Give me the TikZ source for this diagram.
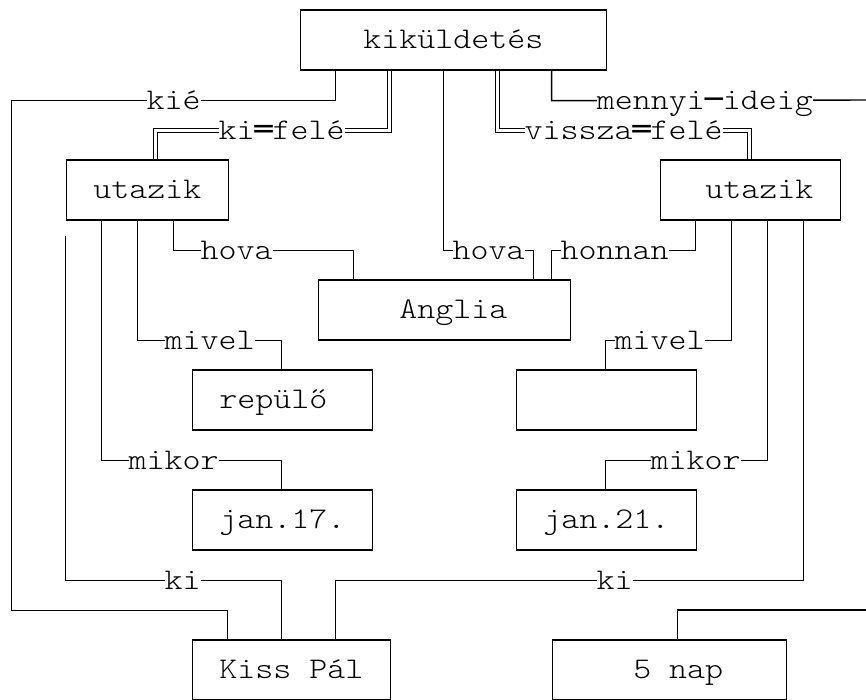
\documentclass[tikz,border=0pt]{standalone}
\usepackage{fontspec}
\newfontfamily\mono[FakeStretch=1.143]{lmmonolt10-regular.otf}
\newfontfamily\boxfont{DejaVu Sans Mono}

\begin{document}
\begin{tikzpicture}[x=0.36cm,y=-0.6cm,line width=0.8pt,
  every node/.style={font=\mono\fontsize{17.07}{20}\selectfont,inner sep=0pt,text height=12.8pt,text depth=2.6pt},
  box/.style={draw,minimum width=#1*0.36cm,minimum height=1.2cm},
  lab/.style={fill=white},
  dbl/.style={double,line width=0.6pt,double distance=1.6pt}]
  \def\cw{0.36cm}
  \def\rh{0.6cm}
  \path[use as bounding box,fill=white] (-0.683,-0.333) rectangle (47.43,23);
  \node[box=17] (mission) at (24.5,1) {kiküldetés};
  \node[box=9] (tripL) at (7.5,6) {utazik};
  \node[box=10] (tripR) at (41,6) {\hspace*{\cw}utazik};
  \node[box=14] (england) at (24,10) {\hspace*{\cw}Anglia};
  \node[box=10] (plane) at (15,13) {repülő\hspace*{\cw}};
  \node[box=10] (meansR) at (33,13) {};
  \node[box=10] (dateL) at (15,17) {jan.17.};
  \node[box=10] (dateR) at (33,17) {jan.21.};
  \node[box=11] (person) at (15.5,22) {Kiss Pál};
  \node[box=13] (period) at (36.5,22) {\hspace*{\cw}5 nap};
  \coordinate (edgeTop) at (48,3);
  \coordinate (edgeLow) at (48,20);
  \draw ([xshift=2*\cw]mission.south west) -- ++(0,1) -- node[lab]{kié} ++(-18,0) -- ++(0,17) -| ([xshift=2*\cw]person.north west);
  \draw[dbl] ([xshift=5*\cw]mission.south west) -- ++(0,2) -- node[lab,pos=0.4615]{ki{\boxfont ═}felé} ++(-13,0) -- ([xshift=5*\cw]tripL.north west);
  \draw ([xshift=8*\cw]mission.south west) -- ++(0,6) -- node[lab]{hova} ++(5,0) -- ([xshift=12*\cw]england.north west);
  \draw[dbl] ([xshift=11*\cw]mission.south west) -- ++(0,2) -- node[lab]{vissza{\boxfont ═}felé} ++(14,0) -- ([xshift=5*\cw]tripR.north west);
  \draw ([xshift=14*\cw]mission.south west) -- ++(0,1) -- node[lab,pos=0.4722]{mennyi{\boxfont ─}ideig} (edgeTop);
  \draw ([xshift=6*\cw]tripL.south west) -- ++(0,1) -- node[lab,pos=0.35]{hova} ++(10,0) -- ([xshift=2*\cw]england.north west);
  \draw ([xshift=4*\cw]tripL.south west) -- ++(0,4) -- node[lab]{mivel} ++(8,0) -- ([xshift=5*\cw]plane.north west);
  \draw ([xshift=2*\cw]tripL.south west) -- ++(0,8) -- node[lab,pos=0.4]{mikor} ++(10,0) -- ([xshift=5*\cw]dateL.north west);
  \draw ([yshift=-0.5*\rh]tripL.south west) -- ++(0,11.5) -- node[lab,pos=0.5417]{ki} ++(12,0) -- ([xshift=5*\cw]person.north west);
  \draw ([xshift=2*\cw]tripR.south west) -- ++(0,1) -- node[lab,pos=0.5625]{honnan} ++(-8,0) -- ([xshift=13*\cw]england.north west);
  \draw ([xshift=4*\cw]tripR.south west) -- ++(0,4) -- node[lab,pos=0.5714]{mivel} ++(-7,0) -- ([xshift=5*\cw]meansR.north west);
  \draw ([xshift=6*\cw]tripR.south west) -- ++(0,8) -- node[lab,pos=0.4444]{mikor} ++(-9,0) -- ([xshift=5*\cw]dateR.north west);
  \draw ([xshift=8*\cw]tripR.south west) -- ++(0,12) -- node[lab,pos=0.4038]{ki} ++(-26,0) -- ([xshift=8*\cw]person.north west);
  \draw ([xshift=7*\cw]period.north west) |- (edgeLow);
\end{tikzpicture}
\end{document}
